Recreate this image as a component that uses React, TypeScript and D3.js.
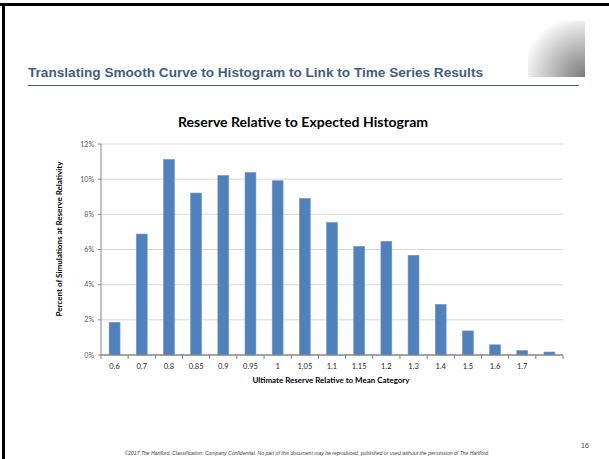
import React from 'react';
import * as d3 from 'd3';

const categories = ['0.6','0.7','0.8','0.85','0.9','0.95','1','1.05','1.1','1.15','1.2','1.3','1.4','1.5','1.6','1.7',''];
const values = [1.86, 6.88, 11.12, 9.21, 10.21, 10.38, 9.91, 8.91, 7.54, 6.18, 6.46, 5.67, 2.88, 1.37, 0.58, 0.25, 0.17];
const yTicks = [0, 2, 4, 6, 8, 10, 12];

const slideTitle = 'Translating Smooth Curve to Histogram to Link to Time Series Results';
const chartTitle = 'Reserve Relative to Expected Histogram';
const xTitle = 'Ultimate Reserve Relative to Mean Category';
const yTitle = 'Percent of Simulations at Reserve Relativity';
const footer = '\u00A92017 The Hartford. Classification: Company Confidential. No part of this document may be reproduced, published or used without the permission of The Hartford.';
const pageNum = '16';

const W = 609, H = 459;
const plot = { left: 101, right: 563, top: 144, bottom: 355 };
const calibri = 'Lato, "Open Sans", sans-serif';
const arial = '"Liberation Sans", Arial, sans-serif';

export default function App() {
  const x = d3.scaleBand<number>()
    .domain(categories.map((_, i) => i))
    .range([plot.left, plot.right])
    .paddingInner(0.6)
    .paddingOuter(0.3);
  const y = d3.scaleLinear().domain([0, 12]).range([plot.bottom, plot.top]);
  const step = x.step();
  const boundaries = d3.range(categories.length + 1).map(i => plot.left + i * step);

  return (
    <svg width={W} height={H} style={{ position: 'absolute', left: 0, top: 0, background: '#fff' }}>
      <defs>
        <radialGradient id="sq" cx="1" cy="1" r="1.25" fx="1" fy="1">
          <stop offset="0" stopColor="#7a7a7a" />
          <stop offset="0.75" stopColor="#e6e6e6" />
          <stop offset="0.9" stopColor="#ffffff" />
        </radialGradient>
      </defs>
      <rect x={0} y={0} width={W} height={H} fill="#fff" />
      {/* frame */}
      <line x1={0} x2={W} y1={4.5} y2={4.5} stroke="#000" strokeWidth={3} />
      <line x1={3.5} x2={3.5} y1={3} y2={H} stroke="#000" strokeWidth={3} />
      {/* gradient square */}
      <rect x={528} y={21} width={57} height={56} fill="url(#sq)" />
      {/* slide title */}
      <text x={28} y={77} fontFamily={arial} fontWeight="bold" fontSize={13.4} fill="#3F5F84" textLength={455} lengthAdjust="spacingAndGlyphs">{slideTitle}</text>
      <line x1={28} x2={579} y1={85.5} y2={85.5} stroke="#3F5F84" strokeWidth={1.2} />

      {/* chart title */}
      <text x={303} y={127} textAnchor="middle" fontFamily={calibri} fontWeight="bold" fontSize={14} fill="#000" textLength={250} lengthAdjust="spacingAndGlyphs">{chartTitle}</text>

      {/* gridlines */}
      {yTicks.map(t => (
        <line key={'g' + t} x1={plot.left} x2={plot.right} y1={y(t)} y2={y(t)} stroke={t === 0 ? '#868686' : '#d9d9d9'} strokeWidth={1} />
      ))}
      {/* y axis */}
      <line x1={plot.left} x2={plot.left} y1={plot.top} y2={plot.bottom} stroke="#868686" />
      {yTicks.map(t => (
        <g key={'yt' + t}>
          <line x1={plot.left - 3} x2={plot.left} y1={y(t)} y2={y(t)} stroke="#868686" />
          <text x={94} y={y(t) + 2.5} textAnchor="end" fontFamily={calibri} fontSize={7} fill="#595959">{t + '%'}</text>
        </g>
      ))}
      {/* bars */}
      {values.map((v, i) => (
        <rect key={'b' + i} x={x(i)} y={y(v)} width={x.bandwidth()} height={y(0) - y(v)} fill="#4F81BD" stroke="#6d96c8" strokeWidth={0.6} />
      ))}
      {/* x axis */}
      <line x1={plot.left} x2={plot.right} y1={plot.bottom} y2={plot.bottom} stroke="#868686" />
      {boundaries.map((b, i) => (
        <line key={'xt' + i} x1={b} x2={b} y1={plot.bottom} y2={plot.bottom + 4} stroke="#868686" />
      ))}
      {categories.map((c, i) => (
        <text key={'xl' + i} x={(x(i) as number) + x.bandwidth() / 2} y={369} textAnchor="middle" fontFamily={calibri} fontSize={7.5} fill="#262626">{c}</text>
      ))}
      <text x={331} y={383} textAnchor="middle" fontFamily={calibri} fontWeight="bold" fontSize={8} fill="#000" textLength={157} lengthAdjust="spacingAndGlyphs">{xTitle}</text>
      <text transform={`translate(62,239) rotate(-90)`} textAnchor="middle" fontFamily={calibri} fontWeight="bold" fontSize={7.8} fill="#000" textLength={155} lengthAdjust="spacingAndGlyphs">{yTitle}</text>

      {/* footer */}
      <text x={307} y={455} textAnchor="middle" fontFamily={arial} fontStyle="italic" fontSize={5} fill="#404040" textLength={365} lengthAdjust="spacingAndGlyphs">{footer}</text>
      <text x={585} y={448} textAnchor="middle" fontFamily={arial} fontSize={7} fill="#404040">{pageNum}</text>
    </svg>
  );
}
